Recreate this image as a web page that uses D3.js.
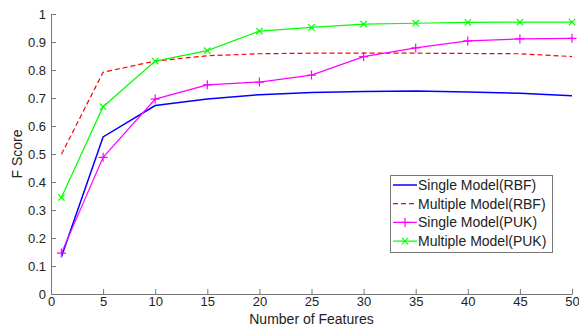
<!DOCTYPE html>
<html><head><meta charset="utf-8">
<script src="https://cdn.jsdelivr.net/npm/d3@7"></script>
<style>body{margin:0;background:#fff}svg{display:block}text{font-family:"Liberation Sans",Arial,sans-serif}</style>
</head><body>
<svg id="c" width="579" height="327"></svg>
<script>
const features = [1, 5, 10, 15, 20, 25, 30, 35, 40, 45, 50];
const singleRBF   = [0.133, 0.561, 0.673, 0.696, 0.712, 0.720, 0.723, 0.725, 0.721, 0.717, 0.708];
const multipleRBF = [0.499, 0.792, 0.832, 0.851, 0.858, 0.860, 0.860, 0.860, 0.859, 0.858, 0.848];
const singlePUK   = [0.146, 0.488, 0.696, 0.747, 0.757, 0.782, 0.848, 0.879, 0.904, 0.911, 0.913];
const multiplePUK = [0.345, 0.669, 0.832, 0.869, 0.939, 0.952, 0.964, 0.967, 0.970, 0.971, 0.971];
const seriesNames = ["Single Model(RBF)", "Multiple Model(RBF)", "Single Model(PUK)", "Multiple Model(PUK)"];
const xTicks = [0,5,10,15,20,25,30,35,40,45,50];
const yTicks = [0,0.1,0.2,0.3,0.4,0.5,0.6,0.7,0.8,0.9,1];

const series = [
  {name: seriesNames[0], values: singleRBF, color: "#0000ff", width: 1.5, dash: null, marker: null},
  {name: seriesNames[1], values: multipleRBF, color: "#ff0000", width: 1.2, dash: "5,3", marker: null},
  {name: seriesNames[2], values: singlePUK, color: "#ff00ff", width: 1.2, dash: null, marker: "plus"},
  {name: seriesNames[3], values: multiplePUK, color: "#00ff00", width: 1.2, dash: null, marker: "cross"}
];

const svg = d3.select("#c");
const L = 51, R = 572, T = 14, B = 294;
const x = d3.scaleLinear().domain([0, 50]).range([L, R]);
const y = d3.scaleLinear().domain([0, 1]).range([B, T]);
const axisColor = "#777";

const xAxis = svg.append("g").attr("transform", `translate(0,${B})`)
  .call(d3.axisBottom(x).tickValues(xTicks).tickFormat(d3.format("d")).tickSizeInner(-5).tickSizeOuter(0).tickPadding(3));
const yAxis = svg.append("g").attr("transform", `translate(${L},0)`)
  .call(d3.axisLeft(y).tickValues(yTicks).tickFormat(d => d === 0 ? "0" : d === 1 ? "1" : d3.format(".1f")(d)).tickSizeInner(-5).tickSizeOuter(0).tickPadding(5));
[xAxis, yAxis].forEach(a => {
  a.select(".domain").attr("stroke", axisColor);
  a.selectAll(".tick line").attr("stroke", axisColor);
  a.selectAll(".tick text").attr("fill", "#222").style("font-size", "13px").style("font-family", '"Liberation Sans",Arial,sans-serif');
});

const line = d3.line().x((d, i) => x(features[i])).y(d => y(d));
function drawMarker(g, type, cx, cy, color) {
  if (type === "plus") {
    const s = 4.5;
    g.append("path").attr("d", `M${cx - s},${cy}H${cx + s}M${cx},${cy - s}V${cy + s}`).attr("stroke", color).attr("stroke-width", 1.2).attr("fill", "none");
  } else if (type === "cross") {
    const s = 3.2;
    g.append("path").attr("d", `M${cx - s},${cy - s}L${cx + s},${cy + s}M${cx - s},${cy + s}L${cx + s},${cy - s}`).attr("stroke", color).attr("stroke-width", 1.2).attr("fill", "none");
  }
}

series.forEach(s => {
  const g = svg.append("g");
  g.append("path").datum(s.values).attr("d", line).attr("fill", "none")
    .attr("stroke", s.color).attr("stroke-width", s.width).attr("stroke-dasharray", s.dash);
  if (s.marker) s.values.forEach((v, i) => drawMarker(g, s.marker, x(features[i]), y(v), s.color));
});

// axis labels
svg.append("text").attr("x", (L + R) / 2).attr("y", 324).attr("text-anchor", "middle")
  .style("font-size", "14px").attr("fill", "#222").text("Number of Features");
svg.append("text").attr("transform", `translate(22,${(T + B) / 2}) rotate(-90)`).attr("text-anchor", "middle")
  .style("font-size", "14px").attr("fill", "#222").text("F Score");

// legend
const lg = svg.append("g");
lg.append("rect").attr("x", 390.5).attr("y", 175.5).attr("width", 162).attr("height", 77)
  .attr("fill", "#fff").attr("stroke", axisColor).attr("stroke-width", 1);
series.forEach((s, i) => {
  const cy = 185 + i * 18.7;
  lg.append("line").attr("x1", 393).attr("x2", 417).attr("y1", cy).attr("y2", cy)
    .attr("stroke", s.color).attr("stroke-width", s.width).attr("stroke-dasharray", s.dash);
  if (s.marker) drawMarker(lg, s.marker, 405, cy, s.color);
  lg.append("text").attr("x", 418).attr("y", cy + 5).style("font-size", "14px").attr("fill", "#222").text(s.name);
});
</script>
</body></html>
